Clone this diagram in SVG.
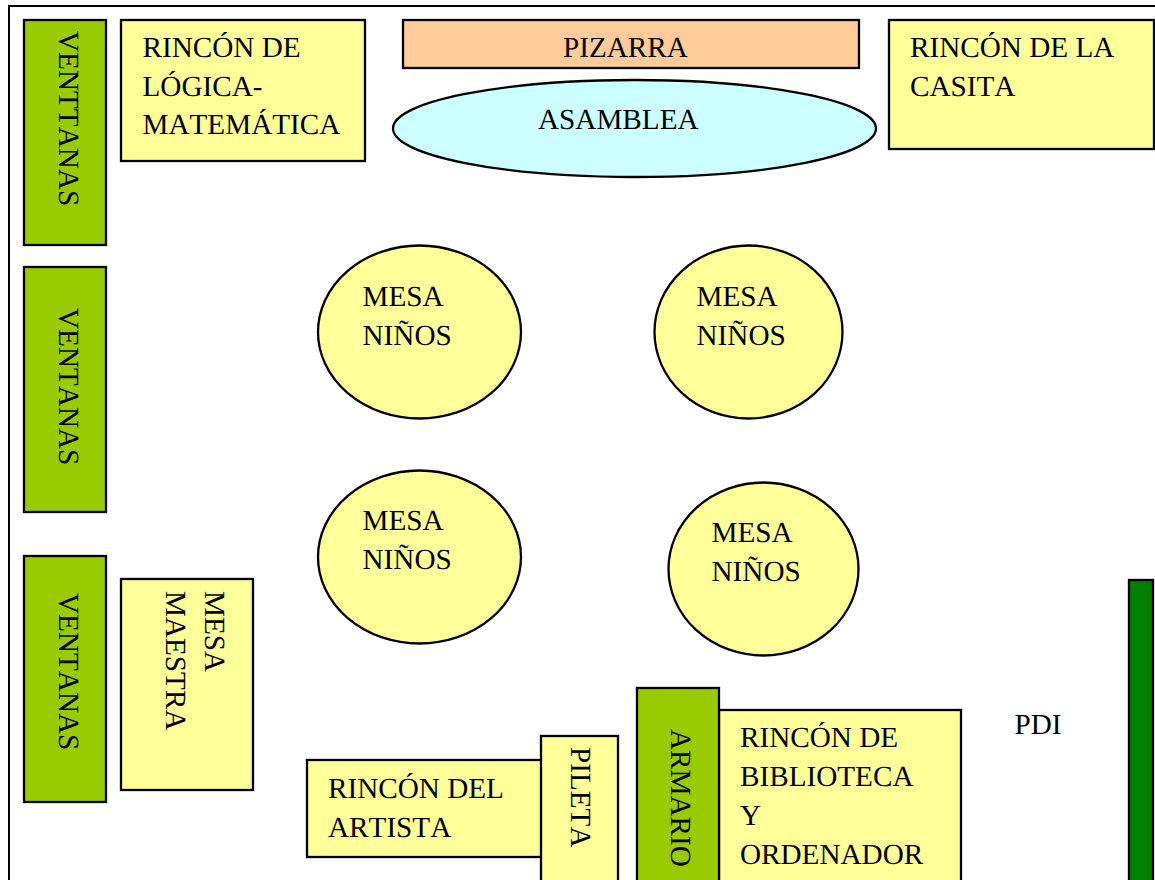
<svg xmlns="http://www.w3.org/2000/svg" width="1155" height="880" viewBox="0 0 1155 880">
<style>
text{font-family:"Liberation Serif","Times New Roman",serif;font-size:29.2px;fill:#000;font-kerning:none;text-rendering:geometricPrecision}
.s{stroke:#000;stroke-width:2.300}
.y{fill:#ffff99}
.g{fill:#99cc00}
</style>
<rect width="1155" height="880" fill="#fff"/>
<g id="frame"><path d="M9 880V6H1155" fill="none" stroke="#000" stroke-width="2"/></g>
<g id="ventanas1"><rect class="s g" x="24" y="20" width="82" height="225"/><text transform="translate(59 31) rotate(90)">VENTTANAS</text></g>
<g id="ventanas2"><rect class="s g" x="24" y="267" width="82" height="245"/><text transform="translate(59 308) rotate(90)">VENTANAS</text></g>
<g id="ventanas3"><rect class="s g" x="24" y="556" width="82" height="246"/><text transform="translate(59 593) rotate(90)">VENTANAS</text></g>
<g id="rincon-logica"><rect class="s y" x="121" y="20" width="244" height="141"/><text x="142.500" y="57">RINCÓN DE</text><text x="142.500" y="96">LÓGICA-</text><text x="142.500" y="134">MATEMÁTICA</text></g>
<g id="pizarra"><rect class="s" fill="#ffcc99" x="403" y="20" width="456" height="48"/><text x="563" y="57">PIZARRA</text></g>
<g id="asamblea"><ellipse class="s" fill="#ccffff" cx="634.500" cy="128.500" rx="241.500" ry="48.500"/><text x="538" y="129">ASAMBLEA</text></g>
<g id="rincon-casita"><rect class="s y" x="889" y="20" width="265" height="129"/><text x="910" y="57">RINCÓN DE LA</text><text x="910" y="96">CASITA</text></g>
<g id="mesa1"><ellipse class="s y" cx="419.500" cy="332" rx="101.500" ry="86.500"/><text x="362.500" y="306">MESA</text><text x="362.500" y="345">NIÑOS</text></g>
<g id="mesa2"><ellipse class="s y" cx="748.500" cy="332" rx="94" ry="86.500"/><text x="696.500" y="306">MESA</text><text x="696.500" y="345">NIÑOS</text></g>
<g id="mesa3"><ellipse class="s y" cx="419.500" cy="557" rx="101.500" ry="86.500"/><text x="362.500" y="530">MESA</text><text x="362.500" y="569">NIÑOS</text></g>
<g id="mesa4"><ellipse class="s y" cx="763.500" cy="569" rx="95" ry="86.500"/><text x="711.500" y="542">MESA</text><text x="711.500" y="581">NIÑOS</text></g>
<g id="mesa-maestra"><rect class="s y" x="121" y="579" width="132" height="211"/><text transform="translate(205 591) rotate(90)">MESA</text><text transform="translate(166 591) rotate(90)">MAESTRA</text></g>
<g id="rincon-artista"><rect class="s y" x="307" y="760" width="240" height="97"/><text x="328" y="798">RINCÓN DEL</text><text x="328" y="837">ARTISTA</text></g>
<g id="pileta"><rect class="s y" x="541" y="736" width="77" height="150"/><text transform="translate(571 747) rotate(90)">PILETA</text></g>
<g id="rincon-biblioteca"><rect class="s y" x="719" y="710" width="242" height="176"/><text x="740" y="747">RINCÓN DE</text><text x="740" y="786">BIBLIOTECA</text><text x="740" y="825">Y</text><text x="740" y="864">ORDENADOR</text></g>
<g id="armario"><rect class="s g" x="637" y="688" width="82" height="198"/><text transform="translate(671 729) rotate(90)">ARMARIO</text></g>
<g id="pdi"><text x="1014.500" y="734">PDI</text></g>
<g id="pdi-board"><rect class="s" fill="#008000" x="1129" y="580" width="24" height="306"/></g>
</svg>
